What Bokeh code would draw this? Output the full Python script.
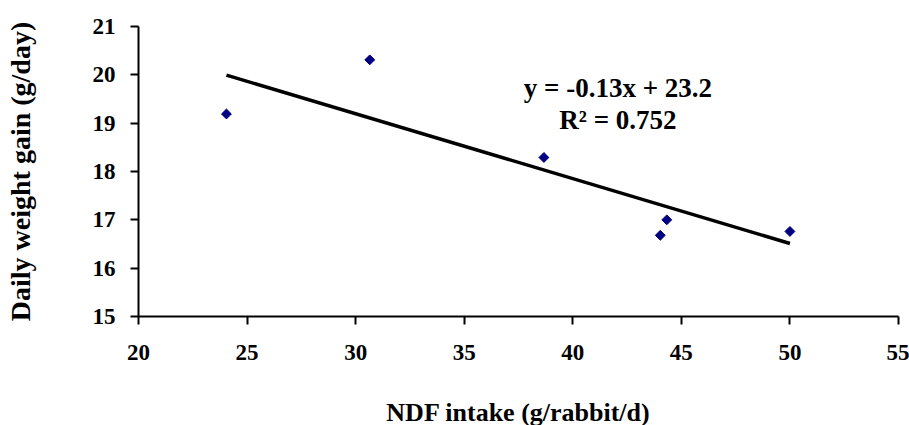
import numpy as np
from bokeh.plotting import figure
from bokeh.models import Range1d, FixedTicker, ColumnDataSource
from bokeh.core.properties import value
from bokeh.embed import file_html
from bokeh.resources import INLINE

# Data
ndf_intake = [24.05, 30.65, 38.67, 44.03, 44.33, 50.0]
daily_gain = [19.19, 20.31, 18.29, 16.68, 17.0, 16.76]
x_ticks = [20, 25, 30, 35, 40, 45, 50, 55]
y_ticks = [15, 16, 17, 18, 19, 20, 21]
eq_lines = ["y = -0.13x + 23.2", "R\u00b2 = 0.752"]
x_title = "NDF intake (g/rabbit/d)"
y_title = "Daily weight gain (g/day)"

FONT = "Liberation Serif"

p = figure(width=909, height=425, frame_width=760, frame_height=290,
           output_backend="svg", toolbar_location=None,
           x_range=Range1d(20, 55), y_range=Range1d(15, 21),
           min_border_left=138, min_border_right=11, min_border_top=26, min_border_bottom=109)
p.xgrid.visible = False
p.ygrid.visible = False
p.outline_line_color = None
p.background_fill_color = "white"
p.border_fill_color = "white"

for ax, ticks in ((p.xaxis, x_ticks), (p.yaxis, y_ticks)):
    ax.ticker = FixedTicker(ticks=ticks)
    ax.minor_tick_line_color = None
    ax.major_tick_in = 0
    ax.major_tick_out = 8
    ax.axis_line_width = 2
    ax.major_tick_line_width = 2
    ax.axis_line_color = "black"
    ax.major_tick_line_color = "black"
    ax.major_label_text_font = FONT
    ax.major_label_text_font_style = "bold"
    ax.major_label_text_font_size = "23px"
    ax.major_label_text_color = "black"
    ax.axis_label_text_font = FONT
    ax.axis_label_text_font_style = "bold"
    ax.axis_label_text_color = "black"

p.xaxis.axis_label = x_title
p.yaxis.axis_label = y_title
p.xaxis.axis_label_text_font_size = "26px"
p.yaxis.axis_label_text_font_size = "28px"
p.xaxis.major_label_standoff = 20
p.yaxis.major_label_standoff = 15
p.xaxis.axis_label_standoff = 35
p.yaxis.axis_label_standoff = 54

# Linear trend line (least squares fit of the data)
slope, intercept = np.polyfit(ndf_intake, daily_gain, 1)
xs = [min(ndf_intake), max(ndf_intake)]
ys = [slope * v + intercept for v in xs]
p.line(xs, ys, line_color="black", line_width=3.5)

src = ColumnDataSource(dict(x=ndf_intake, y=daily_gain))
p.scatter("x", "y", source=src, marker="square", angle=np.pi / 4, size=7,
          fill_color="#000080", line_color="#000080")

p.text(x=[42.08, 42.08], y=[19.72, 19.06], text=eq_lines,
       text_font=value(FONT), text_font_style="bold", text_font_size="27px",
       text_align="center", text_baseline="middle", text_color="black")

open("out.html", "w").write(file_html(p, INLINE))
